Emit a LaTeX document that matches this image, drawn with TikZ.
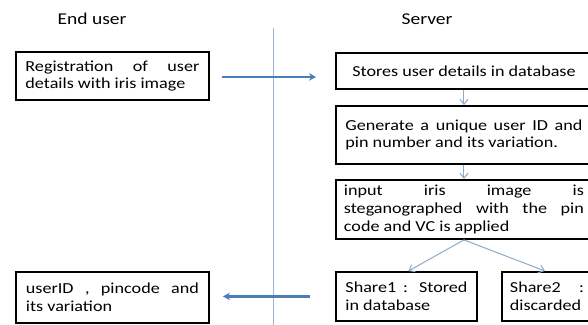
\documentclass[tikz,border=0pt]{standalone}
\usepackage{fontspec}
\setmainfont{Carlito}[FakeStretch=1.185]
\usetikzlibrary{arrows.meta}
\definecolor{mainblue}{HTML}{4A7EBB}
\definecolor{thinblue}{HTML}{8DAACB}
\definecolor{sepblue}{HTML}{9FB3CC}
\tikzset{
  box/.style={draw=black, line width=1.9pt, rectangle, anchor=north west, inner sep=0pt,
    font=\fontsize{15.3}{17.7}\selectfont,
    execute at begin node={\hyphenpenalty=10000\exhyphenpenalty=10000\tolerance=10000\hbadness=10000}},
  jbox/.style={box, align=justify},
  title/.style={font=\fontsize{16.5}{19}\selectfont, inner sep=0pt},
  mainarrow/.style={draw=mainblue, line width=2.2pt, -{Stealth[length=7pt,width=7.5pt]}},
  thinarrow/.style={draw=thinblue, line width=1pt, -{Straight Barb[length=5pt,width=8pt]}},
}
\begin{document}
\begin{tikzpicture}[x=1pt,y=-1pt]
\useasboundingbox (0,0) rectangle (588,324);
\clip (0,0) rectangle (588,324);
\fill[white] (0,0) rectangle (588,324);

\node[title] (eu) at (92,19) {End user};
\node[title] (sv) at (427,19) {Server};

\coordinate (vtop) at (273,28);
\coordinate (vbot) at (273,326);
\draw[sepblue, line width=1pt] (vtop) -- (vbot);

\node[jbox, minimum width=193pt, minimum height=48pt, text width=174pt] (reg) at (15,51)
  {Registration of user\linebreak details with iris image};
\node[box, align=center, minimum width=256pt, minimum height=36pt] (stores) at (335,52)
  {Stores user details in database};
\node[jbox, minimum width=256pt, minimum height=58pt, text width=237pt] (gen) at (335,105)
  {Generate a unique user ID and\linebreak pin number and its variation.};
\node[jbox, minimum width=256pt, minimum height=59pt, text width=240pt] (inp) at (335,179)
  {input iris image is\linebreak steganographed with the pin\linebreak code and VC is applied};
\node[jbox, minimum width=141pt, minimum height=49pt, text width=122pt] (s1) at (335,271)
  {Share1 : Stored\linebreak in database};
\node[jbox, minimum width=90pt, minimum height=49pt, text width=74pt] (s2) at (501,271)
  {Share2 :\linebreak discarded};
\node[jbox, minimum width=193pt, minimum height=51pt, text width=173pt] (uid) at (15,271)
  {userID , pincode and\linebreak its variation};

\draw[mainarrow, shorten <=12pt, shorten >=19pt] ([yshift=-1pt]reg.east) -- ([yshift=-1pt]reg.east -| stores.west);
\draw[mainarrow, shorten <=25pt, shorten >=13pt] (s1.west) -- (s1.west -| uid.east);

\draw[thinarrow] (stores.south) -- (gen.north);
\draw[thinarrow] (gen.south) -- (inp.north);
\draw[thinarrow] (inp.south) -- ([xshift=2pt]s1.north);
\draw[thinarrow] (inp.south) -- ([xshift=-2pt]s2.north);
\end{tikzpicture}
\end{document}
